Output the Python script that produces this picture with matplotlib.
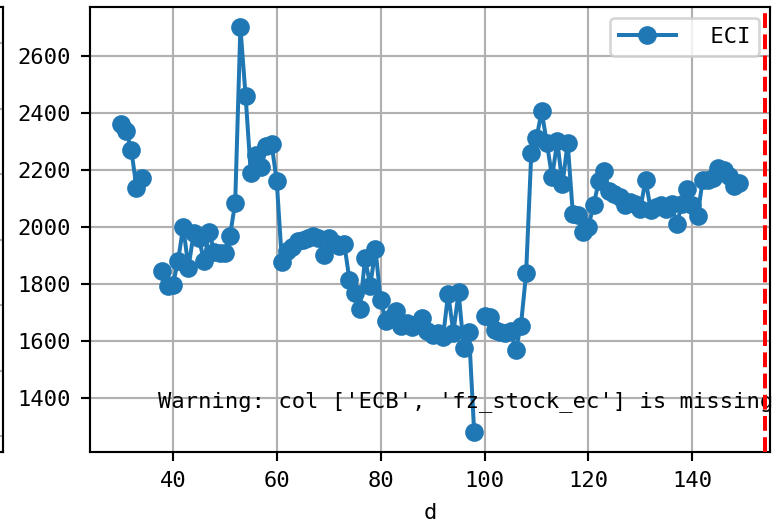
import numpy as np
import matplotlib
matplotlib.use("Agg")
import matplotlib.pyplot as plt

nan = np.nan
d = list(range(30, 150))
eci = [
    2360, 2338, 2271, 2137, 2172, nan, nan, nan, 1845, 1792,   # 30-39
    1798, 1882, 2002, 1857, 1978, 1962, 1880, 1983, 1912, 1910,  # 40-49
    1910, 1970, 2085, 2700, 2460, 2188, 2253, 2212, 2285, 2292,  # 50-59
    2160, 1876, 1915, 1930, 1950, 1955, 1960, 1968, 1962, 1903,  # 60-69
    1960, 1945, 1932, 1940, 1815, 1770, 1712, 1890, 1795, 1922,  # 70-79
    1745, 1672, 1680, 1705, 1655, 1665, 1650, 1660, 1681, 1636,  # 80-89
    1623, 1630, 1614, 1767, 1630, 1772, 1577, 1633, 1283, nan,   # 90-99
    1687, 1686, 1640, 1632, 1630, 1635, 1568, 1655, 1838, 2260,  # 100-109
    2312, 2405, 2294, 2175, 2300, 2150, 2296, 2045, 2042, 1983,  # 110-119
    2002, 2078, 2160, 2198, 2125, 2115, 2105, 2076, 2088, 2080,  # 120-129
    2065, 2166, 2060, 2072, 2078, 2065, 2082, 2010, 2080, 2132,  # 130-139
    2078, 2040, 2165, 2165, 2172, 2207, 2200, 2178, 2145, 2155,  # 140-149
]
vline_x = 154
series_label = " ECI"
warning_text = "Warning: col ['ECB', 'fz_stock_ec'] is missing"
xlabel = "d"
yticks = [1400, 1600, 1800, 2000, 2200, 2400, 2600]
xticks = [40, 60, 80, 100, 120, 140]

plt.rcParams['font.family'] = ['DejaVu Sans Mono']
plt.rcParams['font.size'] = 8.3

W, H = 784, 522
dpi = 192
fig = plt.figure(figsize=(W / dpi, H / dpi), dpi=dpi)

# partially visible neighbouring panel on the left
axl = fig.add_axes([-0.5, 1 - 452 / H, 0.5 + 2.7 / W, 445 / H])
axl.set_ylim(-0.244, 6.55)
axl.set_yticks([0, 1, 2, 3, 4, 5, 6])
axl.set_xticks([])
axl.grid(True, axis='y')
axl.tick_params(labelleft=False)

ax = fig.add_axes([90 / W, 1 - 452 / H, 680 / W, 445 / H])
ax.plot(d, eci, marker='o', color='#1f77b4', label=series_label)
ax.axvline(vline_x, color='red', linestyle='--', linewidth=1.5, zorder=4)
ax.text(0.1, 0.1, warning_text, transform=ax.transAxes)
ax.set_xticks(xticks)
ax.set_yticks(yticks)
ax.grid(True)
ax.set_xlabel(xlabel, labelpad=4.5)
ax.legend(loc='upper right', handlelength=2.55, handletextpad=0.95)

fig.savefig("out.png", dpi=dpi)
